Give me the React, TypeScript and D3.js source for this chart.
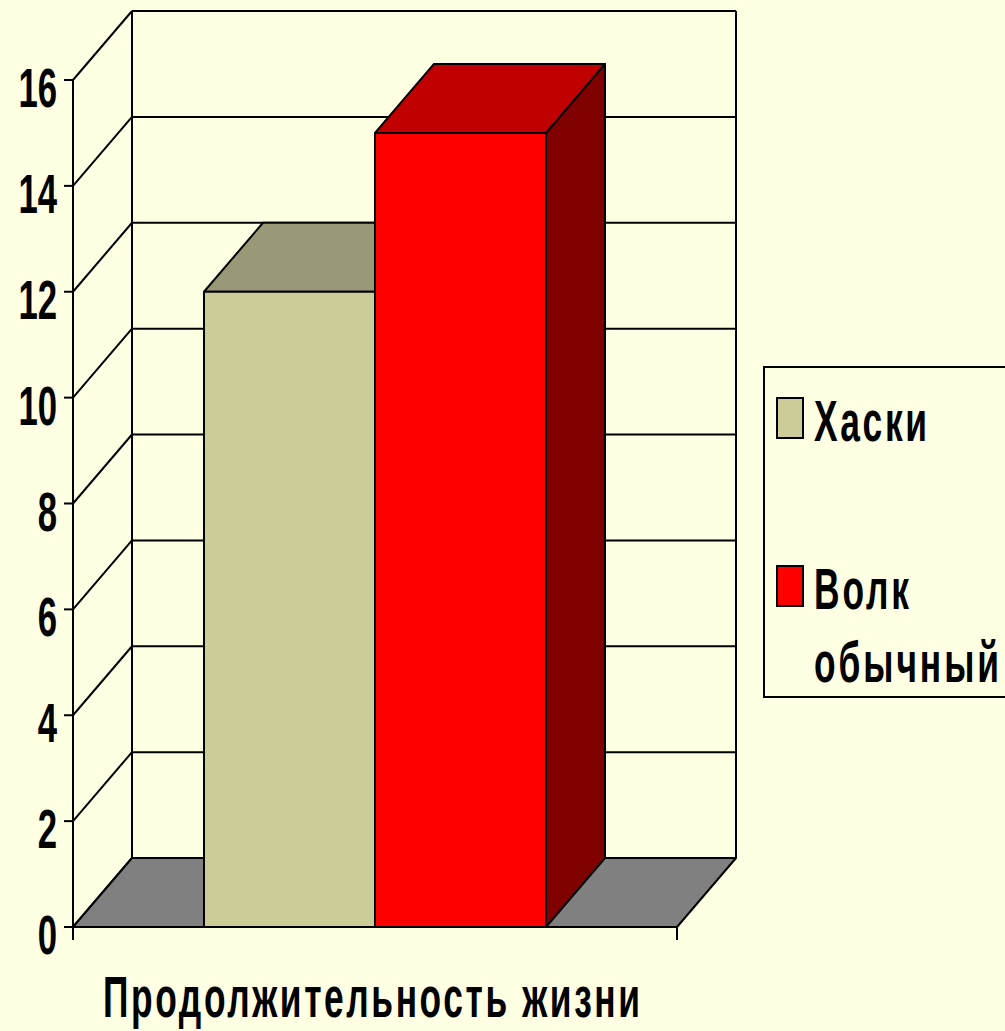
import React from 'react'
import * as d3 from 'd3'

// data
const category = 'Продолжительность жизни'
const seriesNames = ['Хаски', 'Волк обычный']
const seriesValues = [12, 15]
const legendLines = [['Хаски'], ['Волк', 'обычный']]
const yTicks = [0, 2, 4, 6, 8, 10, 12, 14, 16]

const frontColors = ['#CCCC99', '#FF0000']
const topColors = ['#999977', '#C00000']
const sideColors = ['#666650', '#800000']

const W = 1005
const H = 1031
const bg = '#FFFFE3'
const font = '"Liberation Sans", Arial, sans-serif'
const sx = 0.62 // the original is squeezed horizontally

// 3d depth offset
const dx = 59
const dy = -69

export default function App() {
  const y = d3.scaleLinear().domain([0, 16]).range([927, 80])
  const x = d3.scaleBand<string>()
    .domain(seriesNames)
    .range([73, 677])
    .paddingInner(0)
    .paddingOuter(0.766)

  const x0 = 73
  const x1 = 677
  const pts = (p: number[][]) => p.map(d => d.join(',')).join(' ')

  return (
    <svg width={W} height={H} style={{position: 'absolute', left: 0, top: 0}}>
      <rect width={W} height={H} fill={bg} />

      {/* back wall grid */}
      {yTicks.map(t => (
        <line key={'g' + t} x1={x0 + dx} x2={x1 + dx} y1={y(t) + dy} y2={y(t) + dy}
          stroke="#000" strokeWidth={2} />
      ))}
      <line x1={x0 + dx} x2={x0 + dx} y1={y(0) + dy} y2={y(16) + dy} stroke="#000" strokeWidth={2} />
      <line x1={x1 + dx} x2={x1 + dx} y1={y(0) + dy} y2={y(16) + dy} stroke="#000" strokeWidth={2} />

      {/* side wall grid */}
      {yTicks.map(t => (
        <line key={'s' + t} x1={x0} x2={x0 + dx} y1={y(t)} y2={y(t) + dy}
          stroke="#000" strokeWidth={2} />
      ))}

      {/* floor */}
      <polygon
        points={pts([[x0, y(0)], [x1, y(0)], [x1 + dx, y(0) + dy], [x0 + dx, y(0) + dy]])}
        fill="#808080" stroke="#000" strokeWidth={2} strokeLinejoin="round" />

      {/* bars */}
      {seriesNames.map((s, i) => {
        const bx = x(s)!
        const bw = x.bandwidth()
        const top = y(seriesValues[i])
        const base = y(0)
        return (
          <g key={s} stroke="#000" strokeWidth={2} strokeLinejoin="round">
            <polygon fill={sideColors[i]}
              points={pts([[bx + bw, base], [bx + bw + dx, base + dy], [bx + bw + dx, top + dy], [bx + bw, top]])} />
            <polygon fill={topColors[i]}
              points={pts([[bx, top], [bx + bw, top], [bx + bw + dx, top + dy], [bx + dx, top + dy]])} />
            <rect x={bx} y={top} width={bw} height={base - top} fill={frontColors[i]} />
          </g>
        )
      })}

      {/* front axes */}
      <line x1={x0} x2={x0} y1={y(16)} y2={940} stroke="#000" strokeWidth={2} />
      <line x1={x0} x2={x1} y1={y(0)} y2={y(0)} stroke="#000" strokeWidth={2} />
      <line x1={x1} x2={x1} y1={y(0)} y2={940} stroke="#000" strokeWidth={2} />
      {yTicks.map(t => (
        <g key={'t' + t}>
          <line x1={64} x2={x0} y1={y(t)} y2={y(t)} stroke="#000" strokeWidth={2} />
          <text transform={`translate(57,${y(t) + 27}) scale(${sx},1)`} textAnchor="end"
            fontFamily={font} fontWeight="bold" fontSize={56} fill="#000">{t}</text>
        </g>
      ))}

      {/* category label */}
      <text transform={`translate(103,1017) scale(${sx},1)`} fontFamily={font} fontWeight="bold"
        fontSize={57} fill="#000" textLength={537 / sx} lengthAdjust="spacing">{category}</text>

      {/* legend */}
      <rect x={764} y={367} width={260} height={330} fill={bg} stroke="#000" strokeWidth={2} />
      {seriesNames.map((s, i) => {
        const ly = i === 0 ? 398 : 566
        const lines = legendLines[i]
        const widths = i === 0 ? [113] : [95, 185]
        return (
          <g key={'l' + s}>
            <rect x={777} y={ly} width={26} height={40} fill={frontColors[i]} stroke="#000" strokeWidth={2} />
            {lines.map((ln, j) => (
              <text key={ln} transform={`translate(814,${ly + 43 + j * 73}) scale(${sx},1)`}
                fontFamily={font} fontWeight="bold" fontSize={57} fill="#000"
                textLength={widths[j] / sx} lengthAdjust="spacing">{ln}</text>
            ))}
          </g>
        )
      })}
    </svg>
  )
}
